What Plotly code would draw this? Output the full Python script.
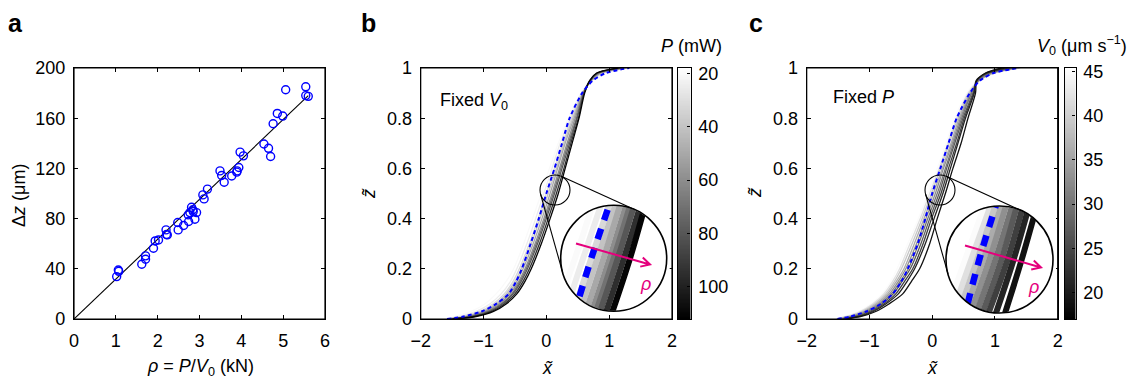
import math
import plotly.graph_objects as go

W, H = 1138, 383          # reference picture size
OFF = 8                   # page offset of the figure inside the browser window
FW, FH = W - OFF, H - OFF  # figure size
FONT = "Liberation Sans, Arial, Helvetica, sans-serif"
FS = 18

# ---------------- panel a data ----------------
rho = [1.02, 1.06, 1.07, 1.62, 1.71, 1.71, 1.90, 1.94, 2.02, 2.20, 2.21, 2.23,
       2.48, 2.49, 2.62, 2.74, 2.73, 2.77, 2.81, 2.84, 2.85, 2.89, 2.93,
       3.08, 3.11, 3.19, 3.49, 3.53, 3.59, 3.77, 3.89, 3.90, 3.94, 3.97, 4.05,
       4.54, 4.65, 4.70, 4.76, 4.86, 4.99, 5.06, 5.54, 5.54, 5.60]
dz = [33.8, 39.0, 38.0, 43.6, 47.6, 50.3, 56.4, 62.2, 63.0, 71.0, 67.3, 67.0,
      76.9, 71.0, 74.5, 77.7, 83.0, 84.8, 89.0, 87.0, 85.6, 79.5, 84.8,
      98.9, 95.7, 103.5, 118.0, 114.4, 109.0, 114.0, 117.0, 118.0, 120.7, 133.0, 130.0,
      139.4, 136.0, 129.5, 155.6, 163.8, 161.7, 182.7, 185.0, 178.0, 177.4]
fit_rho = [0.0, 5.6]
fit_dz = [0.0, 178.0]

# ---------------- panels b, c data ----------------
z_levels = [0, 0.01, 0.03, 0.06, 0.1, 0.15, 0.2, 0.3, 0.4, 0.5, 0.6, 0.7, 0.8, 0.9, 0.95, 0.98, 1.0]

blue_b = [-1.58, -1.32, -1.03, -0.80, -0.60, -0.48, -0.39, -0.25, -0.12, 0.00, 0.13, 0.25, 0.37, 0.57, 0.74, 0.95, 1.32]
P_values = [20, 25, 32, 40, 50, 60, 70, 80, 95, 110]
curves_b = [
    [-1.62, -1.45, -1.20, -0.98, -0.80, -0.64, -0.52, -0.36, -0.22, -0.08, 0.05, 0.19, 0.35, 0.55, 0.72, 0.93, 1.30],
    [-1.60, -1.38, -1.12, -0.90, -0.72, -0.57, -0.47, -0.31, -0.17, -0.04, 0.09, 0.22, 0.38, 0.56, 0.72, 0.91, 1.28],
    [-1.58, -1.33, -1.06, -0.85, -0.67, -0.53, -0.43, -0.27, -0.13, 0.00, 0.13, 0.26, 0.40, 0.57, 0.72, 0.89, 1.27],
    [-1.56, -1.29, -1.02, -0.81, -0.64, -0.50, -0.40, -0.24, -0.10, 0.03, 0.16, 0.28, 0.42, 0.58, 0.72, 0.88, 1.25],
    [-1.55, -1.26, -0.99, -0.78, -0.61, -0.47, -0.37, -0.21, -0.07, 0.06, 0.18, 0.30, 0.44, 0.58, 0.71, 0.86, 1.24],
    [-1.54, -1.23, -0.96, -0.75, -0.58, -0.44, -0.34, -0.18, -0.04, 0.09, 0.21, 0.33, 0.46, 0.59, 0.71, 0.85, 1.22],
    [-1.53, -1.20, -0.93, -0.72, -0.55, -0.42, -0.32, -0.16, -0.02, 0.11, 0.23, 0.35, 0.48, 0.59, 0.70, 0.83, 1.20],
    [-1.52, -1.18, -0.90, -0.70, -0.53, -0.40, -0.30, -0.14, 0.00, 0.13, 0.25, 0.37, 0.49, 0.60, 0.70, 0.82, 1.18],
    [-1.50, -1.15, -0.87, -0.67, -0.50, -0.37, -0.27, -0.11, 0.03, 0.16, 0.28, 0.39, 0.51, 0.60, 0.69, 0.81, 1.16],
    [-1.48, -1.12, -0.84, -0.64, -0.47, -0.34, -0.24, -0.08, 0.06, 0.19, 0.30, 0.41, 0.52, 0.61, 0.69, 0.80, 1.14],
]

blue_c = [-1.51, -1.30, -1.05, -0.82, -0.63, -0.49, -0.39, -0.23, -0.11, 0.00, 0.13, 0.26, 0.39, 0.60, 0.76, 0.98, 1.37]
V_values = [45, 42, 39, 36, 33, 30, 27, 24, 21, 19]
curves_c = [
    [-1.55, -1.40, -1.18, -0.98, -0.80, -0.66, -0.56, -0.39, -0.22, -0.07, 0.08, 0.22, 0.36, 0.55, 0.74, 1.00, 1.42],
    [-1.53, -1.37, -1.15, -0.95, -0.77, -0.63, -0.52, -0.355, -0.19, -0.04, 0.11, 0.25, 0.39, 0.57, 0.75, 0.99, 1.40],
    [-1.51, -1.34, -1.12, -0.92, -0.74, -0.60, -0.49, -0.32, -0.16, -0.01, 0.13, 0.27, 0.41, 0.59, 0.75, 0.97, 1.38],
    [-1.49, -1.31, -1.09, -0.89, -0.71, -0.57, -0.45, -0.285, -0.13, 0.02, 0.16, 0.30, 0.43, 0.61, 0.75, 0.96, 1.35],
    [-1.47, -1.28, -1.06, -0.86, -0.68, -0.54, -0.42, -0.25, -0.10, 0.05, 0.18, 0.32, 0.45, 0.62, 0.74, 0.94, 1.32],
    [-1.45, -1.25, -1.03, -0.83, -0.65, -0.51, -0.38, -0.215, -0.07, 0.08, 0.21, 0.34, 0.47, 0.63, 0.73, 0.92, 1.28],
    [-1.43, -1.22, -1.00, -0.80, -0.62, -0.48, -0.35, -0.18, -0.04, 0.11, 0.23, 0.36, 0.49, 0.65, 0.72, 0.90, 1.24],
    [-1.41, -1.19, -0.97, -0.77, -0.58, -0.44, -0.31, -0.145, -0.01, 0.14, 0.26, 0.39, 0.51, 0.66, 0.71, 0.88, 1.20],
    [-1.39, -1.16, -0.94, -0.74, -0.54, -0.40, -0.28, -0.11, 0.03, 0.17, 0.29, 0.41, 0.53, 0.67, 0.70, 0.86, 1.15],
    [-1.37, -1.13, -0.90, -0.69, -0.47, -0.33, -0.20, -0.04, 0.08, 0.21, 0.33, 0.46, 0.57, 0.69, 0.71, 0.85, 1.10],
]

P_range = [18, 112]
V_range = [17, 45.4]
cb_b_ticks = [20, 40, 60, 80, 100]
cb_c_ticks = [20, 25, 30, 35, 40, 45]
xt_ticks = [-2, -1, 0, 1, 2]
zt_ticks = [0, 0.2, 0.4, 0.6, 0.8, 1]
rho_ticks = [0, 1, 2, 3, 4, 5, 6]
dz_ticks = [0, 40, 80, 120, 160, 200]

# inset zoom windows (data units of panels b and c)
inset_b_x = [-0.15, 0.37]
inset_b_z = [0.433, 0.567]
inset_c_x = [-0.165, 0.365]
inset_c_z = [0.437, 0.563]

BLUE = "#0000ff"
MAGENTA = "#e5007d"
FRAME = "black"


def px(x):
    return (x - OFF) / FW


def py(y):
    return 1 - (y - OFF) / FH


def gray(t):
    g = int(round(255 * max(0.0, min(1.0, t))))
    return f"rgb({g},{g},{g})"


def gray_b(p):
    return gray((P_range[1] - p) / (P_range[1] - P_range[0]))


def gray_c(v):
    return gray((v - V_range[0]) / (V_range[1] - V_range[0]))


fig = go.Figure()

# ---- panel a
fig.add_trace(go.Scatter(x=fit_rho, y=fit_dz, mode="lines", line=dict(color="black", width=1.1),
                         xaxis="x", yaxis="y", showlegend=False))
fig.add_trace(go.Scatter(x=rho, y=dz, mode="markers",
                         marker=dict(symbol="circle-open", size=8, color=BLUE, line=dict(width=1.4, color=BLUE)),
                         xaxis="x", yaxis="y", showlegend=False))

# ---- panel b
for p, xs in zip(P_values, curves_b):
    fig.add_trace(go.Scatter(x=xs, y=z_levels, mode="lines", line=dict(color=gray_b(p), width=1.3, shape="spline", smoothing=0.8),
                             xaxis="x2", yaxis="y2", showlegend=False))
fig.add_trace(go.Scatter(x=blue_b, y=z_levels, mode="lines", line=dict(color=BLUE, width=2, dash="4px,3px", shape="spline", smoothing=0.8),
                         xaxis="x2", yaxis="y2", showlegend=False))

# ---- panel c
for v, xs in zip(V_values, curves_c):
    fig.add_trace(go.Scatter(x=xs, y=z_levels, mode="lines", line=dict(color=gray_c(v), width=1.3, shape="spline", smoothing=0.8),
                             xaxis="x3", yaxis="y3", showlegend=False))
fig.add_trace(go.Scatter(x=blue_c, y=z_levels, mode="lines", line=dict(color=BLUE, width=2, dash="4px,3px", shape="spline", smoothing=0.8),
                         xaxis="x3", yaxis="y3", showlegend=False))

# ---- colorbars (as heatmaps)
nb = 200
lv_b = [P_range[0] + (P_range[1] - P_range[0]) * i / (nb - 1) for i in range(nb)]
lv_c = [V_range[0] + (V_range[1] - V_range[0]) * i / (nb - 1) for i in range(nb)]
fig.add_trace(go.Heatmap(x=[0], y=lv_b, z=[[v] for v in lv_b], zmin=P_range[0], zmax=P_range[1],
                         colorscale=[[0, "white"], [1, "black"]], showscale=False, xaxis="x4", yaxis="y4"))
fig.add_trace(go.Heatmap(x=[0], y=lv_c, z=[[v] for v in lv_c], zmin=V_range[0], zmax=V_range[1],
                         colorscale=[[0, "black"], [1, "white"]], showscale=False, xaxis="x5", yaxis="y5"))

# ---- insets (magnified data)
for p, xs in zip(P_values, curves_b):
    fig.add_trace(go.Scatter(x=xs, y=z_levels, mode="lines", line=dict(color=gray_b(p), width=6, shape="spline"),
                             xaxis="x6", yaxis="y6", showlegend=False))
fig.add_trace(go.Scatter(x=blue_b, y=z_levels, mode="lines", line=dict(color=BLUE, width=6.5, dash="11px,9px", shape="spline"),
                         xaxis="x6", yaxis="y6", showlegend=False))
for v, xs in zip(V_values, curves_c):
    fig.add_trace(go.Scatter(x=xs, y=z_levels, mode="lines", line=dict(color=gray_c(v), width=6, shape="spline"),
                             xaxis="x7", yaxis="y7", showlegend=False))
fig.add_trace(go.Scatter(x=blue_c, y=z_levels, mode="lines", line=dict(color=BLUE, width=6.5, dash="11px,9px", shape="spline"),
                         xaxis="x7", yaxis="y7", showlegend=False))

# ---- layout geometry (reference pixels)
A_X = [74, 325]
B_X = [420.7, 672]
C_X = [806.7, 1057.7]
Y_PIX = [68, 319]
CBB_X = [678, 690.5]
CBC_X = [1065, 1075.5]
INB = (613.7, 258.3, 53.0)   # big circle b (cx, cy, r)
INC = (999.5, 259.5, 53.5)   # big circle c
SMB = (555.0, 190.0, 15.0)   # small circle b
SMC = (940.0, 190.0, 15.0)   # small circle c

ydom = [py(Y_PIX[1]), py(Y_PIX[0])]
tickfont = dict(family=FONT, size=FS, color="black")


def main_axis(dom, rng, tv, anchor, standoff):
    return dict(domain=dom, range=rng, tickvals=tv, ticks="inside", ticklen=4, tickwidth=1, tickcolor="black",
                showline=True, linecolor="black", linewidth=1.2, mirror="ticks", showgrid=False, zeroline=False,
                anchor=anchor, tickfont=tickfont, ticklabelstandoff=standoff, automargin=False)


def hidden_axis(dom, rng, anchor):
    return dict(domain=dom, range=rng, visible=False, anchor=anchor, fixedrange=True, automargin=False)


layout = dict(
    template="none",
    width=FW, height=FH, autosize=False, margin=dict(l=0, r=0, t=0, b=0, pad=0), paper_bgcolor="white", plot_bgcolor="white",
    font=dict(family=FONT, size=FS, color="black"), showlegend=False,
    xaxis=main_axis([px(A_X[0]), px(A_X[1])], [0, 6], rho_ticks, "y", 5),
    yaxis=main_axis(ydom, [0, 200], dz_ticks, "x", 4),
    xaxis2=main_axis([px(B_X[0]), px(B_X[1])], [-2, 2], xt_ticks, "y2", 5),
    yaxis2=main_axis(ydom, [0, 1], zt_ticks, "x2", 4),
    xaxis3=main_axis([px(C_X[0]), px(C_X[1])], [-2, 2], xt_ticks, "y3", 5),
    yaxis3=main_axis(ydom, [0, 1], zt_ticks, "x3", 4),
    xaxis4=dict(domain=[px(CBB_X[0]), px(CBB_X[1])], range=[-0.5, 0.5], anchor="y4", showline=True, mirror=True,
                linecolor="black", linewidth=1.2, showticklabels=False, ticks="", showgrid=False, zeroline=False,
                automargin=False),
    yaxis4=dict(domain=ydom, range=[P_range[1], P_range[0]], anchor="x4", side="right", tickvals=cb_b_ticks,
                ticks="inside", ticklen=3, tickcolor="black", showline=True, mirror=True, linecolor="black",
                linewidth=1.2, showgrid=False, zeroline=False, tickfont=tickfont, ticklabelstandoff=3,
                automargin=False),
    xaxis5=dict(domain=[px(CBC_X[0]), px(CBC_X[1])], range=[-0.5, 0.5], anchor="y5", showline=True, mirror=True,
                linecolor="black", linewidth=1.2, showticklabels=False, ticks="", showgrid=False, zeroline=False,
                automargin=False),
    yaxis5=dict(domain=ydom, range=V_range, anchor="x5", side="right", tickvals=cb_c_ticks,
                ticks="inside", ticklen=3, tickcolor="black", showline=True, mirror=True, linecolor="black",
                linewidth=1.2, showgrid=False, zeroline=False, tickfont=tickfont, ticklabelstandoff=3,
                automargin=False),
    xaxis6=hidden_axis([px(INB[0] - INB[2]), px(INB[0] + INB[2])], inset_b_x, "y6"),
    yaxis6=hidden_axis([py(INB[1] + INB[2]), py(INB[1] - INB[2])], inset_b_z, "x6"),
    xaxis7=hidden_axis([px(INC[0] - INC[2]), px(INC[0] + INC[2])], inset_c_x, "y7"),
    yaxis7=hidden_axis([py(INC[1] + INC[2]), py(INC[1] - INC[2])], inset_c_z, "x7"),
)
fig.update_layout(**layout)


# ---- shapes: masks, circles, connector lines, arrows
def pt(x, y):
    return f"{px(x):.6f},{py(y):.6f}"


def circle_pts(cx, cy, r, n=120, reverse=False):
    pts = []
    for i in range(n):
        a = 2 * math.pi * i / n
        if reverse:
            a = -a
        pts.append((cx + r * math.cos(a), cy + r * math.sin(a)))
    return pts


def mask_path(cx, cy, r, pad=3):
    s = r + pad
    sq = [(cx - s, cy - s), (cx + s, cy - s), (cx + s, cy + s), (cx - s, cy + s)]
    p = "M " + " L ".join(pt(*q) for q in sq) + " Z "
    cp = circle_pts(cx, cy, r - 0.5, reverse=True)
    p += "M " + " L ".join(pt(*q) for q in cp) + " Z"
    return p


def circle_shape(cx, cy, r, width=1.3):
    return dict(type="circle", xref="paper", yref="paper", x0=px(cx - r), x1=px(cx + r), y0=py(cy + r), y1=py(cy - r),
                line=dict(color="black", width=width), fillcolor="rgba(0,0,0,0)", layer="above")


def rect_shape(x0, x1, y0, y1):
    return dict(type="rect", xref="paper", yref="paper", x0=px(x0), x1=px(x1), y0=py(y1), y1=py(y0),
                line=dict(color=FRAME, width=1.2), fillcolor="rgba(0,0,0,0)", layer="above")


def tangents(c1, c2):
    (x1, y1, r1), (x2, y2, r2) = c1, c2
    dx, dy = x2 - x1, y2 - y1
    D = math.hypot(dx, dy)
    base = math.atan2(dy, dx)
    al = math.acos((r1 - r2) / D)
    out = []
    for s in (1, -1):
        a = base + s * al
        nx, ny = math.cos(a), math.sin(a)
        out.append(dict(type="line", xref="paper", yref="paper",
                        x0=px(x1 + r1 * nx), y0=py(y1 + r1 * ny), x1=px(x2 + r2 * nx), y1=py(y2 + r2 * ny),
                        line=dict(color="black", width=1.1), layer="above"))
    return out


def arrow_path(x0, y0, x1, y1, head=10, ang=28):
    a = math.atan2(y1 - y0, x1 - x0)
    h1 = (x1 - head * math.cos(a - math.radians(ang)), y1 - head * math.sin(a - math.radians(ang)))
    h2 = (x1 - head * math.cos(a + math.radians(ang)), y1 - head * math.sin(a + math.radians(ang)))
    return f"M {pt(x0, y0)} L {pt(x1, y1)} M {pt(*h1)} L {pt(x1, y1)} L {pt(*h2)}"


shapes = []
for C in (INB, INC):
    shapes.append(dict(type="path", xref="paper", yref="paper", path=mask_path(*C), fillcolor="white",
                       line=dict(width=0), layer="above", fillrule="evenodd"))
for X in (A_X, B_X, C_X):
    shapes.append(rect_shape(X[0], X[1], Y_PIX[0], Y_PIX[1]))
shapes += tangents(SMB, INB) + tangents(SMC, INC)
shapes += [circle_shape(*SMB, width=1.1), circle_shape(*INB, width=1.6),
           circle_shape(*SMC, width=1.1), circle_shape(*INC, width=1.6)]
shapes.append(dict(type="path", xref="paper", yref="paper", path=arrow_path(576, 243.5, 650, 264.5),
                   line=dict(color=MAGENTA, width=2), layer="above"))
shapes.append(dict(type="path", xref="paper", yref="paper", path=arrow_path(965, 245.5, 1041, 267.5),
                   line=dict(color=MAGENTA, width=2), layer="above"))
fig.update_layout(shapes=shapes)


# ---- annotations
def ann(text, x, y, size=FS, xanchor="center", yanchor="middle", angle=0, color="black"):
    return dict(text=text, x=px(x), y=py(y), xref="paper", yref="paper", xanchor=xanchor, yanchor=yanchor,
                showarrow=False, textangle=angle, borderpad=0, font=dict(family=FONT, size=size, color=color))


anns = [
    ann("<b>a</b>", 15, 8, size=25, yanchor="top"),
    ann("<b>b</b>", 368, 8, size=25, yanchor="top"),
    ann("<b>c</b>", 756, 8, size=25, yanchor="top"),
    ann("<i>ρ</i> = <i>P</i>/<i>V</i><sub>0</sub> (kN)", 200, 367),
    ann("Δ<i>z</i> (μm)", 19, 196, angle=-90),
    ann("<i>x\u0303</i>", 547, 368),
    ann("<i>z\u0303</i>", 369, 193, angle=-90),
    ann("<i>x\u0303</i>", 932, 368),
    ann("<i>z\u0303</i>", 755, 193, angle=-90),
    ann("Fixed <i>V</i><sub>0</sub>", 439, 101, xanchor="left"),
    ann("Fixed <i>P</i>", 832, 97, xanchor="left"),
    ann("<i>P</i> (mW)", 723, 46, xanchor="right"),
    ann("<i>V</i><sub>0</sub> (μm s<sup>−1</sup>)", 1128, 46, xanchor="right"),
    ann("<i>ρ</i>", 645, 284, size=18, color=MAGENTA),
    ann("<i>ρ</i>", 1033, 287, size=18, color=MAGENTA),
]
fig.update_layout(annotations=anns)

fig.write_html("out.html")
